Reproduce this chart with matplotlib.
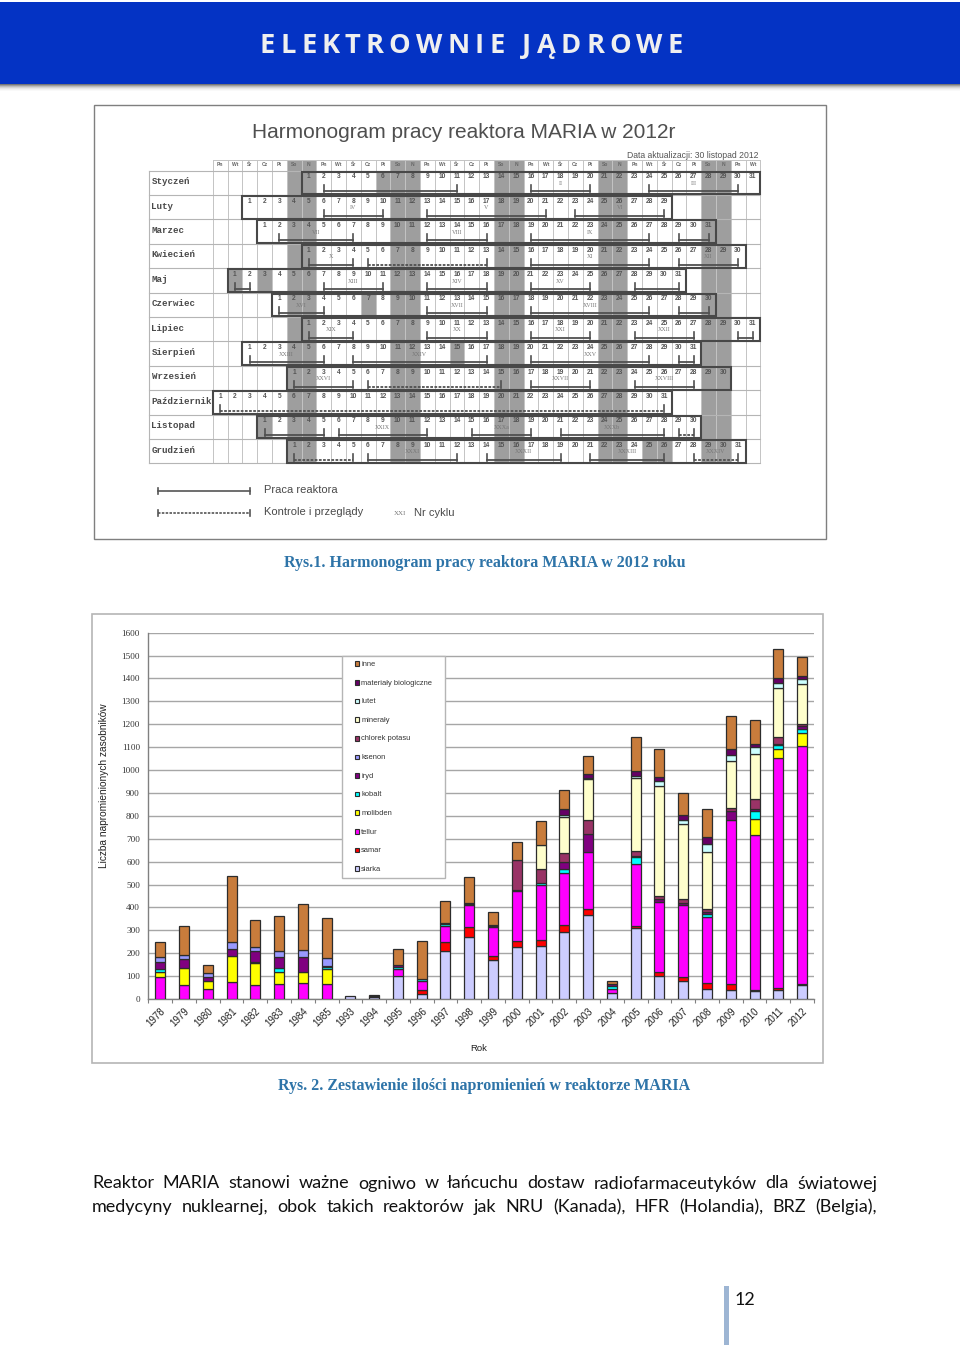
import matplotlib
matplotlib.use("Agg")
import matplotlib.pyplot as plt
from matplotlib.patches import Rectangle
from matplotlib.transforms import ScaledTranslation
import numpy as np

W, H = 960, 1345
SANS = "Liberation Sans"
SERIF = "Liberation Serif"
BODY = "Lato"

years = ["1978","1979","1980","1981","1982","1983","1984","1985","1993","1994","1995","1996","1997","1998",
         "1999","2000","2001","2002","2003","2004","2005","2006","2007","2008","2009","2010","2011","2012"]
siarka   = [0,0,0,0,0,0,0,0,12,10,102,20,208,272,169,226,233,293,367,25,309,100,80,42,38,33,41,61]
samar    = [0,0,0,0,0,0,0,0,0,0,0,19,41,44,20,26,26,29,27,0,11,18,17,26,27,6,6,3]
tellur   = [95,60,42,73,60,65,68,65,0,0,28,38,70,93,124,218,240,227,249,20,268,304,312,292,719,677,1004,1042]
molibden = [25,77,36,115,96,55,49,65,0,0,0,0,0,0,0,0,0,0,0,0,0,0,0,0,0,72,43,57]
kobalt   = [12,0,0,0,7,17,0,11,0,0,11,9,8,6,7,0,9,17,0,13,31,0,0,11,0,33,16,16]
iryd     = [28,36,17,32,45,46,66,5,0,0,6,3,0,0,0,6,0,31,77,7,7,15,12,11,39,7,6,12]
ksenon   = [25,21,17,28,18,25,32,34,0,0,0,0,0,0,0,0,0,0,0,0,0,0,0,0,0,0,0,0]
chlorek  = [0,0,0,0,0,0,0,0,0,0,0,0,0,0,0,130,60,41,60,0,19,13,14,11,10,44,29,11]
mineraly = [0,0,0,0,0,0,0,0,0,0,0,0,0,0,0,0,104,158,179,0,319,482,328,247,205,198,215,172]
lutet    = [0,0,0,0,0,0,0,0,0,0,0,0,0,0,0,0,0,9,7,0,10,20,19,35,26,29,22,23]
materialy= [0,0,0,0,0,0,0,0,0,5,0,0,6,3,3,0,0,23,15,0,20,16,21,31,26,17,21,13]
inne     = [63,124,36,289,121,156,201,174,0,2,70,163,96,113,58,81,105,85,80,15,152,125,97,124,144,104,125,83]

series_names = ["siarka","samar","tellur","molibden","kobalt","iryd","ksenon","chlorek potasu",
                "minerały","lutet","materiały biologiczne","inne"]
series_values = [siarka,samar,tellur,molibden,kobalt,iryd,ksenon,chlorek,mineraly,lutet,materialy,inne]
series_colors = ["#CCCCFF","#FF0000","#FF00FF","#FFFF00","#00FFFF","#800080","#9999FF","#993366",
                 "#FFFFCC","#CCFFFF","#660066","#C87C3C"]

month_names = ["Styczeń","Luty","Marzec","Kwiecień","Maj","Czerwiec","Lipiec","Sierpień","Wrzesień",
               "Październik","Listopad","Grudzień"]
month_start = [6,2,3,6,1,4,6,2,5,0,3,5]
month_days  = [31,29,31,30,31,30,31,31,30,31,30,31]
holiday_days = {0:[6],4:[1,3],5:[7],7:[15],10:[1,11],11:[25,26]}
week = ["Pn","Wt","Śr","Cz","Pt","So","N"]
cycles = [
 [(2,11,"",0),(16,20,"II",0),(24,30,"III",0)],
 [(6,10,"IV",0),(13,21,"V",0),(23,29,"VI",0)],
 [(2,7,"VII",0),(12,16,"VIII",0),(19,27,"IX",0),(29,31,"",0)],
 [(1,4,"X",0),(5,13,"",1),(16,24,"XI",0),(26,30,"XII",0)],
 [(1,2,"",0),(7,11,"XIII",0),(14,18,"XIV",0),(21,25,"XV",0),(28,31,"",0)],
 [(1,4,"XVI",0),(11,15,"XVII",0),(18,26,"XVIII",0),(28,30,"",0)],
 [(1,4,"XIX",0),(9,13,"XX",0),(16,20,"XXI",0),(23,27,"XXII",0),(30,31,"",0)],
 [(1,6,"XXIII",0),(8,17,"XXIV",0),(20,28,"XXV",0),(30,31,"",0)],
 [(1,5,"XXVI",0),(6,15,"",1),(17,21,"XXVII",0),(24,28,"XXVIII",0)],
 [(1,31,"",1)],
 [(1,5,"",0),(6,12,"XXIX",0),(15,19,"XXXa",0),(21,28,"XXXb",0),(29,30,"",1)],
 [(1,5,"",1),(6,12,"XXXI",0),(14,19,"XXXII",0),(21,26,"XXXIII",0),(28,31,"XXXIV",1)],
]

fig = plt.figure(figsize=(W/100, H/100), dpi=100, facecolor="white")
page = fig.add_axes([0,0,1,1], zorder=0)
page.set_xlim(0, W); page.set_ylim(H, 0); page.axis("off")

def text_width(s, **kw):
    r = fig.canvas.get_renderer()
    t = page.text(0,0,s,**kw)
    w = t.get_window_extent(r).width
    t.remove()
    return w

# ---- page header
page.add_patch(Rectangle((0,1.5),W,82,fc="#0433C4",ec="none"))
for k,c in enumerate(["#777777","#9c9c9c","#bcbcbc","#d4d4d4","#e6e6e6","#f2f2f2","#f9f9f9"]):
    page.add_patch(Rectangle((0,83.5+k),W,1,fc=c,ec="none"))
head_kw = dict(family="Open Sans",weight="bold",fontsize=19.6)
head_words = ["ELEKTROWNIE","JĄDROWE"]
word_gap = 18
n_letters = sum(len(w) for w in head_words)
total_w = sum(text_width(c,**head_kw) for w in head_words for c in w)
track = (683-260-word_gap-total_w)/(n_letters-2)
xx = 260
for w in head_words:
    for c in w:
        page.text(xx,53,c,color="#EFEFEF",ha="left",va="baseline",**head_kw)
        xx += text_width(c,**head_kw)+track
    xx += word_gap-track

# ---- schedule picture
page.add_patch(Rectangle((93.5,104.5),732.5,434.5,fc="white",ec="#7f7f7f",lw=1))
page.text(464,132.5,"Harmonogram pracy reaktora MARIA w 2012r",family=SANS,color="#4f4f4f",
          fontsize=15.05,ha="center",va="center")
page.text(693,155,"Data aktualizacji: 30 listopad 2012",family=SANS,color="#555555",fontsize=6.2,
          ha="center",va="center")

X0, CW, Y0, RH = 212.7, 14.8, 170.5, 24.4
NC = 37
Y1 = Y0 + 12*RH
GR = "#9e9e9e"
for c in [5,6,12,13,19,20,26,27,33,34]:
    page.add_patch(Rectangle((X0+c*CW,Y0-11),CW,Y1-Y0+11,fc=GR,ec="none"))
for m,days in holiday_days.items():
    for d in days:
        c = month_start[m]+d-1
        page.add_patch(Rectangle((X0+c*CW,Y0+m*RH),CW,RH,fc=GR,ec="none"))
for c in range(NC+1):
    page.plot([X0+c*CW]*2,[Y0-11,Y1],color="#c4c4c4",lw=0.7)
page.plot([148.5,148.5],[Y0,Y1],color="#b5b5b5",lw=0.8)
for r in range(13):
    page.plot([148.5,X0+NC*CW],[Y0+r*RH]*2,color="#b5b5b5",lw=0.8)
page.plot([X0,X0+NC*CW],[Y0-11]*2,color="#c4c4c4",lw=0.7)
for c in range(NC):
    page.text(X0+(c+.5)*CW,Y0-5.5,week[c%7],family=SANS,color="#666666",fontsize=3.6,ha="center",va="center",weight="bold")
for m,name in enumerate(month_names):
    top = Y0+m*RH
    page.text(151.5,top+RH/2-1,name,family="Liberation Mono",weight="bold",color="#4a4a4a",fontsize=6.6,ha="left",va="center")
    s = month_start[m]; n = month_days[m]
    for d in range(1,n+1):
        page.text(X0+(s+d-.5)*CW,top+6.5,str(d),family=SANS,color="#555555",fontsize=4.8,ha="center",va="center",weight="bold")
    page.add_patch(Rectangle((X0+s*CW,top+1),n*CW,RH-1.5,fc="none",ec="#484848",lw=1.5,zorder=3))
    for a,b,lab,dash in cycles[m]:
        xa = X0+(s+a-.5)*CW; xb = X0+(s+b-.5)*CW
        yb = top+RH-3.5
        page.plot([xa,xb],[yb,yb],color="#505050",lw=1.3,ls=(0,(1.5,0.8)) if dash else "-",zorder=4)
        page.plot([xa,xa],[yb-6,yb+1],color="#505050",lw=1.2,zorder=4)
        page.plot([xb,xb],[yb-6,yb+1],color="#505050",lw=1.2,zorder=4)
        if lab:
            page.text((xa+xb)/2,top+13,lab,family=SERIF,color="#777777",fontsize=4.3,ha="center",va="center",zorder=4)

for yy,dash,lab in [(491,0,"Praca reaktora"),(513,1,"Kontrole i przeglądy")]:
    page.plot([158,250],[yy,yy],color="#555555",lw=1.2,ls=(0,(1.5,0.8)) if dash else "-")
    page.plot([158,158],[yy-3,yy+3],color="#555555",lw=1.2)
    page.plot([250,250],[yy-3,yy+3],color="#555555",lw=1.2)
    page.text(264,yy-1,lab,family=SANS,color="#4a4a4a",fontsize=8,ha="left",va="center")
page.text(394,513.5,"XXI",family=SERIF,color="#777777",fontsize=5,ha="left",va="center")
page.text(414,513.5,"Nr cyklu",family=SANS,color="#4a4a4a",fontsize=8,ha="left",va="center")

CAP = "#2E74A8"
page.text(484.5,563,"Rys.1. Harmonogram pracy reaktora MARIA w 2012 roku",family=SERIF,weight="bold",color=CAP,
          fontsize=11.57,ha="center",va="center")
page.text(484,1086,"Rys. 2. Zestawienie ilości napromienień w reaktorze MARIA",family=SERIF,weight="bold",color=CAP,
          fontsize=11.57,ha="center",va="center")

# ---- chart frame
page.add_patch(Rectangle((91.5,613.5),731.5,449.5,fc="white",ec="#b5b5b5",lw=1.2))

ax_l, ax_r, ax_t, ax_b = 148.3, 814, 632.7, 999
ax = fig.add_axes([ax_l/W, 1-ax_b/H, (ax_r-ax_l)/W, (ax_b-ax_t)/H], zorder=2)
ax.patch.set_alpha(0)
x = np.arange(len(years))
bottom = np.zeros(len(years))
handles = []
for name,vals,col in zip(series_names,series_values,series_colors):
    vals = np.array(vals,float)
    keep = vals > 0
    b = ax.bar(x[keep],vals[keep],bottom=bottom[keep],width=0.42,color=col,edgecolor="#2c2c2c",lw=0.9,zorder=3,label=name)
    handles.append(b)
    bottom += vals
ax.set_xlim(-.5,len(years)-.5)
ax.set_ylim(0,1600)
ax.set_yticks(np.arange(0,1601,100))
ax.set_xticks(x)
ax.set_xticklabels(years,rotation=45,ha="right",rotation_mode="anchor",family=SANS,fontsize=7,color="#222222")
shift = ScaledTranslation(1.5/100,-1/100,fig.dpi_scale_trans)
for t in ax.get_xticklabels():
    t.set_transform(t.get_transform()+shift)
ax.set_xticks(np.arange(-.5,len(years)),minor=True)
ax.tick_params(axis="x",which="major",length=0,pad=5)
ax.tick_params(axis="x",which="minor",length=3,color="#808080",width=0.8)
ax.tick_params(axis="y",length=0,pad=6,labelsize=6.6,labelcolor="#333333")
for t in ax.get_yticklabels():
    t.set_family(SERIF)
ax.grid(axis="y",color="#a6a6a6",lw=1,zorder=0)
ax.set_axisbelow(True)
for s in ["top","right"]:
    ax.spines[s].set_visible(False)
for s in ["left","bottom"]:
    ax.spines[s].set_color("#808080"); ax.spines[s].set_linewidth(1)
page.text(479,1048.5,"Rok",family=SANS,fontsize=6.8,color="#222222",ha="center",va="center")
page.text(104,785.5,"Liczba napromienionych zasobników",family=SANS,fontsize=7.25,color="#222222",
          rotation=90,ha="center",va="center")

bw, bh = ax_r-ax_l, ax_b-ax_t
leg = ax.legend(handles[::-1],series_names[::-1],loc="upper left",mode="expand",
                bbox_to_anchor=((341.7-ax_l)/bw,1-(875.7-ax_t)/bh,(445-341.7)/bw,(875.7-655.7)/bh),
                prop={"family":SANS,"size":5.45},fancybox=False,framealpha=1,edgecolor="#b5b5b5",
                borderaxespad=0,labelspacing=1.48,handlelength=1.45,handleheight=0.75,handletextpad=0.46,
                borderpad=0.65)
leg.set_zorder(5)
leg.get_frame().set_linewidth(1)
for h in leg.legend_handles:
    h.set_x(5.8); h.set_width(3.4); h.set_height(3.4)
    h.set_linewidth(0.8)
for t in leg.get_texts():
    t.set_color("#333333")

# ---- body text, justified between the page margins
def justified(line, y, x0, x1, fs):
    kw = dict(family=BODY,fontsize=fs)
    words = line.split()
    ws = [text_width(w,**kw) for w in words]
    gap = (x1-x0-sum(ws))/(len(words)-1)
    xx = x0
    for w,wd in zip(words,ws):
        page.text(xx,y,w,color="#111111",ha="left",va="baseline",**kw)
        xx += wd+gap
justified("Reaktor MARIA stanowi ważne ogniwo w łańcuchu dostaw radiofarmaceutyków dla światowej",1188.5,92,877,13)
justified("medycyny nuklearnej, obok takich reaktorów jak NRU (Kanada), HFR (Holandia), BRZ (Belgia),",1212,92,877,13)

page.add_patch(Rectangle((723.5,1286),5,59,fc="#9DB5D3",ec="none"))
page.text(735,1305,"12",family=BODY,fontsize=13,color="#111111",ha="left",va="baseline")

fig.savefig("out.png",dpi=100)
